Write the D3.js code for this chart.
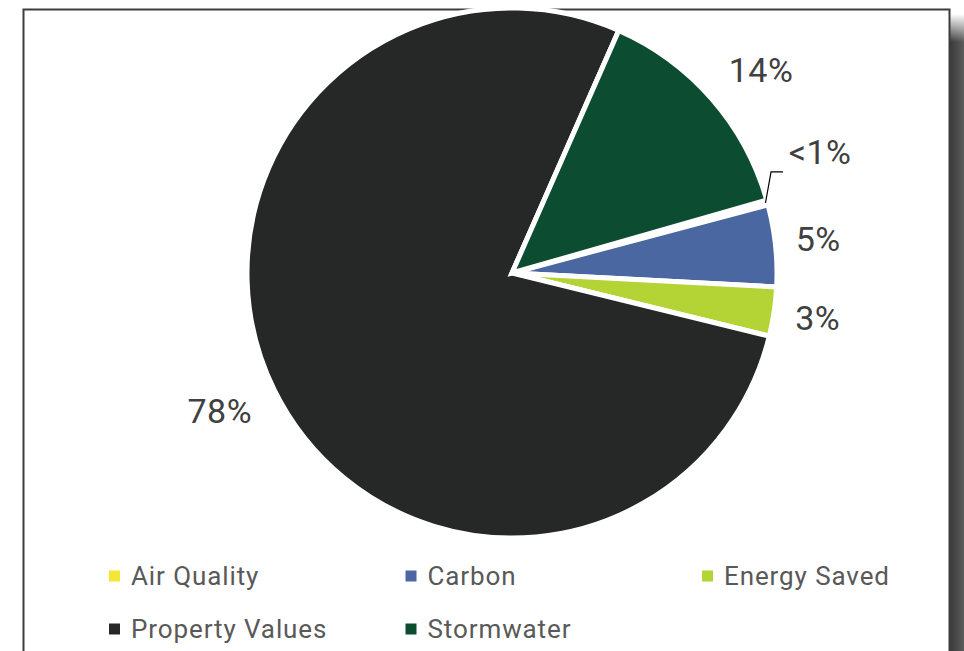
<!DOCTYPE html>
<html>
<head>
<meta charset="utf-8">
<script src="https://cdn.jsdelivr.net/npm/d3@7"></script>
<style>
  html, body { margin: 0; padding: 0; background: #fff; }
  svg { display: block; font-family: Roboto, "Noto Sans", sans-serif; }
</style>
</head>
<body>
<svg id="chart" width="964" height="651"></svg>
<script>
// Benefit categories and their share of total value (%)
const categories = ["Air Quality", "Carbon", "Energy Saved", "Property Values", "Stormwater"];
const shares = [0.3, 5, 3, 78, 14];
const shareLabels = ["<1%", "5%", "3%", "78%", "14%"];
const colors = ["#F6E532", "#4A67A1", "#B4D334", "#262828", "#0C4C31"];

const svg = d3.select("#chart");
const W = 964, H = 651;

// Frame with drop shadow on the right
const defs = svg.append("defs");
const sh = defs.append("linearGradient").attr("id", "shadowX").attr("x1", 0).attr("x2", 1).attr("y1", 0).attr("y2", 0);
sh.append("stop").attr("offset", 0).attr("stop-color", "#3a3a3a");
sh.append("stop").attr("offset", 1).attr("stop-color", "#5c5c5c");
const fade = defs.append("linearGradient").attr("id", "shadowFade").attr("x1", 0).attr("x2", 0).attr("y1", 0).attr("y2", 1);
fade.append("stop").attr("offset", 0).attr("stop-color", "#fff").attr("stop-opacity", 1);
fade.append("stop").attr("offset", 1).attr("stop-color", "#fff").attr("stop-opacity", 0);

svg.append("rect").attr("x", 950).attr("y", 14).attr("width", 14).attr("height", H - 14).attr("fill", "url(#shadowX)");
svg.append("rect").attr("x", 950).attr("y", 14).attr("width", 14).attr("height", 28).attr("fill", "url(#shadowFade)");

svg.append("path")
  .attr("d", `M23.5,${H} V9.5 H949.5 V${H}`)
  .attr("fill", "none").attr("stroke", "#3c3c3c").attr("stroke-width", 2);

// Pie
const cx = 512, cy = 273, R = 265;
const a0 = 74 * Math.PI / 180;
const pie = d3.pie().sort(null).value(d => d).startAngle(a0).endAngle(a0 + 2 * Math.PI);
const arcs = pie(shares);
const arc = d3.arc().innerRadius(0).outerRadius(R);

const g = svg.append("g").attr("transform", `translate(${cx},${cy})`);
g.selectAll("path.slice").data(arcs).join("path")
  .attr("class", "slice")
  .attr("d", arc)
  .attr("fill", (d, i) => colors[i])
  .attr("stroke", "#fff").attr("stroke-width", 5).attr("stroke-linejoin", "miter");

// Data labels placed outside the pie along each slice's mid-angle
const labelRadius = [331, 308, 309, 323, 321];
const angleNudge = [-6, -0.3, 0, 1, 2]; // degrees, keeps small-slice labels apart
const labelPos = arcs.map((d, i) => {
  const a = (d.startAngle + d.endAngle) / 2 + angleNudge[i] * Math.PI / 180;
  return [labelRadius[i] * Math.sin(a), -labelRadius[i] * Math.cos(a)];
});
g.selectAll("text.lbl").data(arcs).join("text")
  .attr("class", "lbl")
  .attr("x", (d, i) => labelPos[i][0])
  .attr("y", (d, i) => labelPos[i][1])
  .attr("text-anchor", "middle").attr("dominant-baseline", "central")
  .attr("font-size", 34).attr("letter-spacing", 0.5).attr("fill", "#404040")
  .text((d, i) => shareLabels[i]);

// Leader line for the smallest slice
{
  const d = arcs[0];
  const a = (d.startAngle + d.endAngle) / 2;
  const p0 = [ (R - 2) * Math.sin(a), -(R - 2) * Math.cos(a) ];
  const p1 = [ labelPos[0][0] - 49, labelPos[0][1] + 20 ];
  const p2 = [ p1[0] + 12, p1[1] ];
  g.append("polyline")
    .attr("points", [p0, p1, p2].map(p => p.join(",")).join(" "))
    .attr("fill", "none").attr("stroke", "#000").attr("stroke-width", 1.2);
}

// Legend: three columns, two rows
const legX = d3.scalePoint().domain([0, 1, 2]).range([109, 702]);
const legY = d3.scalePoint().domain([0, 1]).range([576, 629]);
const leg = svg.append("g").selectAll("g").data(categories).join("g")
  .attr("transform", (d, i) => `translate(${legX(i % 3)},${legY(Math.floor(i / 3))})`);
leg.append("rect").attr("x", 0).attr("y", -5.5).attr("width", 11).attr("height", 11)
  .attr("fill", (d, i) => colors[i]);
leg.append("text").attr("x", 22).attr("y", 0).attr("dominant-baseline", "central")
  .attr("font-size", 26).attr("letter-spacing", 0.9).attr("fill", "#595959").text(d => d);
</script>
</body>
</html>
